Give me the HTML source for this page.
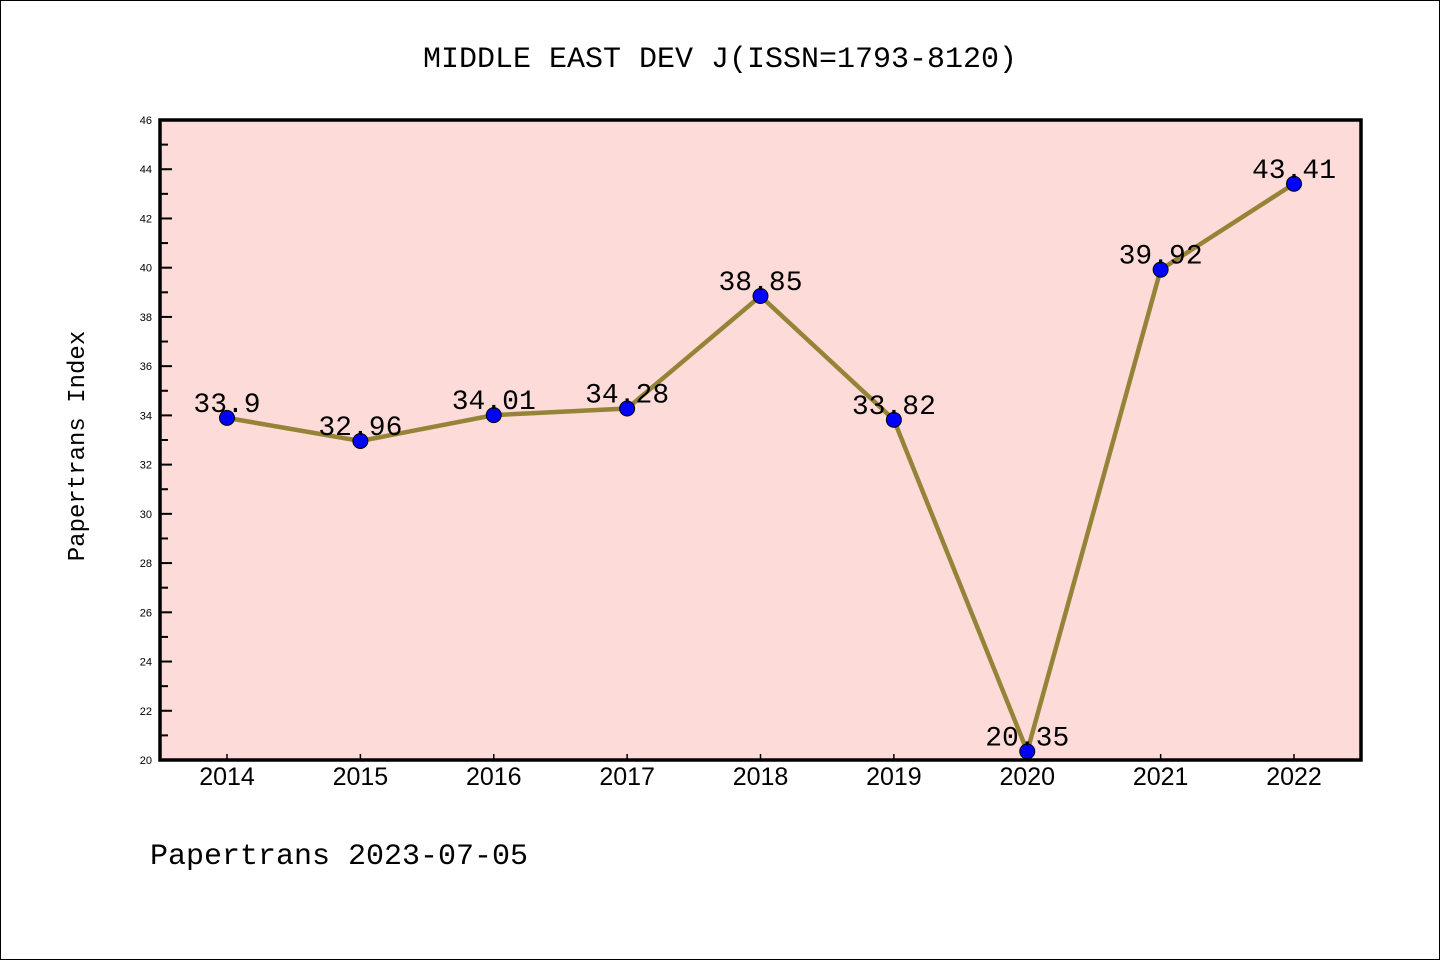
<!DOCTYPE html>
<html><head><meta charset="utf-8"><style>
body{margin:0;background:#fff}
svg{display:block}
text{font-family:"Liberation Mono","DejaVu Sans Mono",monospace}
text.sans{font-family:"Liberation Sans","DejaVu Sans",sans-serif}
</style></head><body>
<svg id="c" width="1440" height="960" viewBox="0 0 1440 960">
<rect x="0.5" y="0.5" width="1439" height="959" fill="#fff" stroke="#000"/>
<text x="720" y="67" text-anchor="middle" font-size="30">MIDDLE EAST DEV J(ISSN=1793-8120)</text>
<rect x="160" y="120" width="1201" height="640" fill="#fddbd8"/>
<g id="yax"></g>
<g id="xax"></g>
<g id="series"></g>
<rect x="160" y="120" width="1201" height="640" fill="none" stroke="#000" stroke-width="3.5"/>
<text transform="translate(84,446) rotate(-90)" text-anchor="middle" font-size="24">Papertrans Index</text>
<text x="150" y="864" font-size="30">Papertrans 2023-07-05</text>
</svg>
<script>
const years=["2014","2015","2016","2017","2018","2019","2020","2021","2022"];
const values=[33.9,32.96,34.01,34.28,38.85,33.82,20.35,39.92,43.41];
const labels=["33.9","32.96","34.01","34.28","38.85","33.82","20.35","39.92","43.41"];
const yTicks=[20,22,24,26,28,30,32,34,36,38,40,42,44,46];
const NS="http://www.w3.org/2000/svg";
const L=160,R=1361,T=120,B=760,ymin=20,ymax=46;
const x=i=>227+i*(1294-227)/(years.length-1);
const y=v=>B-(v-ymin)/(ymax-ymin)*(B-T);
function mk(t,a,p){const e=document.createElementNS(NS,t);for(const k in a)e.setAttribute(k,a[k]);p.appendChild(e);return e;}
const ya=document.getElementById('yax'),xa=document.getElementById('xax'),s=document.getElementById('series');
yTicks.forEach(v=>{
 const l=mk('line',{x1:L,x2:L+12,y1:y(v),y2:y(v),stroke:'#000','stroke-width':2},ya);
 
 
 const t=mk('text',{x:152,y:y(v)+4,'text-anchor':'end','font-size':11,'class':'sans'},ya);
 
 
 t.textContent=v;
 if(v<ymax){const m=mk('line',{x1:L,x2:L+8,y1:y(v+1),y2:y(v+1),stroke:'#000','stroke-width':2},ya);
 
 }
});
years.forEach((yr,i)=>{
 const l=mk('line',{x1:x(i),x2:x(i),y1:B,y2:B-6,stroke:'#000','stroke-width':1.5},xa);
 
 
 const t=mk('text',{x:x(i),y:785,'text-anchor':'middle','font-size':25,'class':'sans'},xa);
 
 
 t.textContent=yr;
});
const pl=mk('polyline',{points:values.map((v,i)=>x(i)+','+y(v)).join(' '),fill:'none',stroke:'#958437','stroke-width':4.5},s);


values.forEach((v,i)=>{
 const c=mk('circle',{cx:x(i),cy:y(v),r:7.5,fill:'#0000ff',stroke:'#000','stroke-width':1},s);
 
 
 const t=mk('text',{x:x(i),y:y(v)-6,'text-anchor':'middle','font-size':28},s);
 
 
 t.textContent=labels[i];
});
</script>
</body></html>
